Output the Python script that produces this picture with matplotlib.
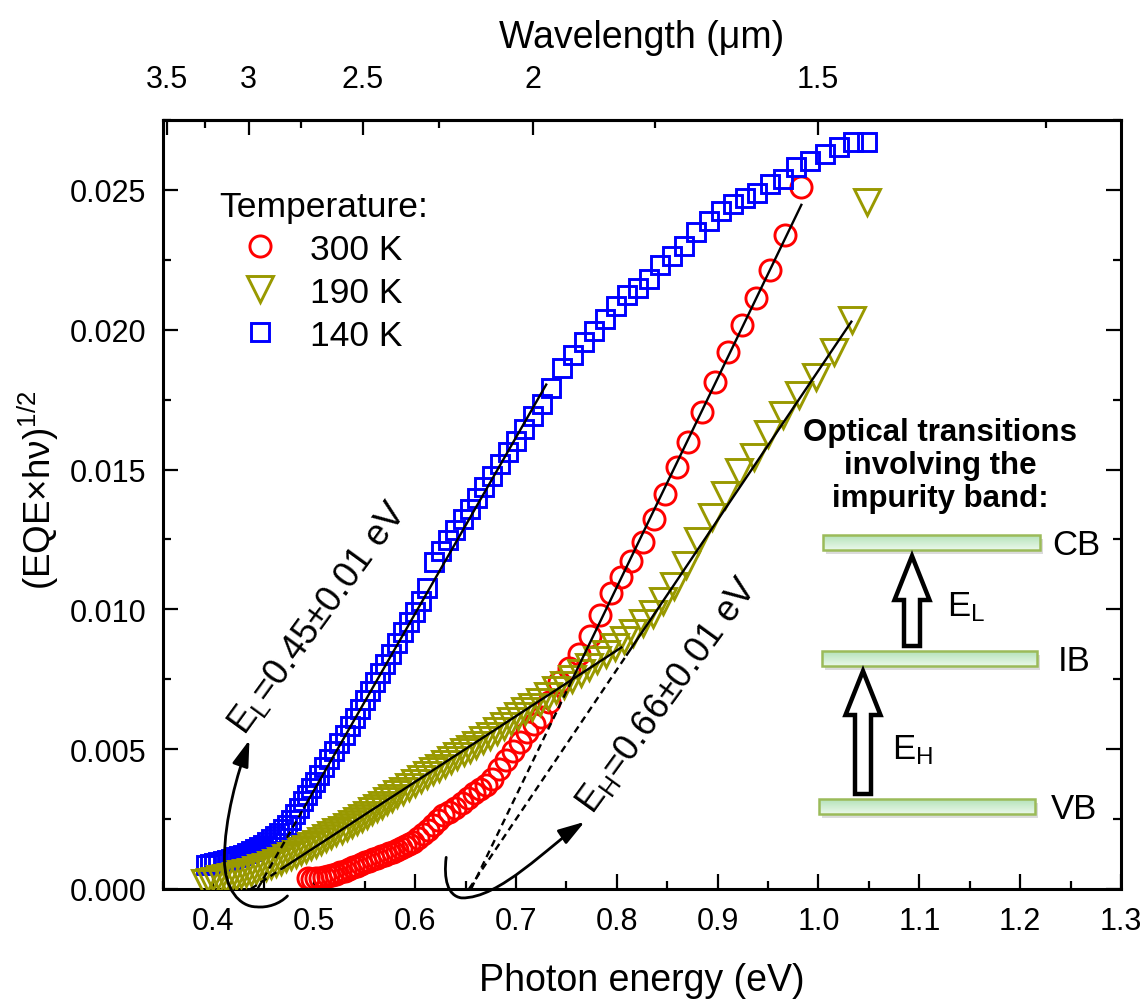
import numpy as np
import matplotlib
matplotlib.use('Agg')
import matplotlib.pyplot as plt
from matplotlib.path import Path
from matplotlib.patches import FancyArrowPatch, FancyArrow, Rectangle
from matplotlib.colors import LinearSegmentedColormap
from matplotlib.ticker import MultipleLocator, FixedLocator, FormatStrFormatter

plt.rcParams['font.family'] = ['Liberation Sans', 'DejaVu Sans']
plt.rcParams['mathtext.fontset'] = 'custom'
plt.rcParams['mathtext.rm'] = 'Liberation Sans'
plt.rcParams['mathtext.it'] = 'Liberation Sans:italic'
plt.rcParams['mathtext.bf'] = 'Liberation Sans:bold'

# ---- datos ----
temps = ['300 K', '190 K', '140 K']

e_300 = [0.494, 0.498, 0.502, 0.506, 0.510, 0.514, 0.518, 0.522, 0.526, 0.530,
         0.534, 0.538, 0.542, 0.546, 0.550, 0.554, 0.558, 0.562, 0.566, 0.570,
         0.574, 0.578, 0.582, 0.586, 0.590, 0.594, 0.598, 0.603, 0.608, 0.613,
         0.618, 0.623, 0.628, 0.634, 0.640, 0.646, 0.652, 0.658, 0.664, 0.670,
         0.676, 0.683, 0.690, 0.697, 0.704, 0.711, 0.718, 0.725, 0.733, 0.743,
         0.753, 0.763, 0.773, 0.783, 0.794, 0.804, 0.814, 0.826, 0.837, 0.848,
         0.860, 0.871, 0.884, 0.897, 0.910, 0.924, 0.938, 0.952, 0.967, 0.983]
y_300 = [0.00040, 0.00035, 0.00038, 0.00040, 0.00043, 0.00047, 0.00051, 0.00055, 0.00060, 0.00065,
         0.00071, 0.00077, 0.00083, 0.00089, 0.00095, 0.00101, 0.00107, 0.00112, 0.00117, 0.00122,
         0.00127, 0.00133, 0.00140, 0.00147, 0.00154, 0.00161, 0.00168, 0.00182, 0.00196, 0.00212,
         0.00230, 0.00248, 0.00263, 0.00275, 0.00290, 0.00308, 0.00325, 0.00342, 0.00358, 0.00372,
         0.00392, 0.00428, 0.00462, 0.00495, 0.00527, 0.00562, 0.00590, 0.00615, 0.00668, 0.00740,
         0.00790, 0.00840, 0.00906, 0.00978, 0.01060, 0.01115, 0.01172, 0.01241, 0.01324, 0.01414,
         0.01509, 0.01599, 0.01706, 0.01813, 0.01921, 0.02016, 0.02112, 0.02213, 0.02338, 0.02511]

e_190 = [0.392, 0.397, 0.402, 0.407, 0.412, 0.417, 0.422, 0.427, 0.432, 0.437,
         0.442, 0.447, 0.452, 0.457, 0.462, 0.467, 0.472, 0.477, 0.482, 0.487,
         0.492, 0.497, 0.502, 0.507, 0.512, 0.517, 0.522, 0.527, 0.532, 0.537,
         0.542, 0.547, 0.552, 0.557, 0.562, 0.567, 0.572, 0.577, 0.582, 0.588,
         0.594, 0.600, 0.606, 0.612, 0.618, 0.624, 0.630, 0.636, 0.642, 0.648,
         0.654, 0.660, 0.667, 0.674, 0.681, 0.688, 0.695, 0.702, 0.709, 0.716,
         0.724, 0.732, 0.740, 0.748, 0.756, 0.764, 0.772, 0.780, 0.789, 0.798,
         0.807, 0.816, 0.826, 0.836, 0.846, 0.857, 0.869, 0.881, 0.894, 0.907,
         0.921, 0.936, 0.950, 0.965, 0.981, 0.998, 1.015, 1.033, 1.048]
y_190 = [0.00020, 0.00025, 0.00030, 0.00034, 0.00038, 0.00042, 0.00047, 0.00052, 0.00057, 0.00062,
         0.00068, 0.00074, 0.00080, 0.00087, 0.00094, 0.00101, 0.00109, 0.00117, 0.00126, 0.00135,
         0.00144, 0.00153, 0.00162, 0.00172, 0.00182, 0.00192, 0.00202, 0.00212, 0.00222, 0.00233,
         0.00244, 0.00255, 0.00266, 0.00278, 0.00290, 0.00302, 0.00314, 0.00326, 0.00338, 0.00352,
         0.00366, 0.00380, 0.00394, 0.00408, 0.00421, 0.00434, 0.00447, 0.00460, 0.00474, 0.00488,
         0.00502, 0.00516, 0.00532, 0.00548, 0.00566, 0.00583, 0.00600, 0.00618, 0.00635, 0.00652,
         0.00670, 0.00690, 0.00710, 0.00730, 0.00750, 0.00772, 0.00795, 0.00818, 0.00842, 0.00866,
         0.00890, 0.00915, 0.00950, 0.00985, 0.01030, 0.01085, 0.01160, 0.01245, 0.01330, 0.01408,
         0.01490, 0.01545, 0.01628, 0.01694, 0.01766, 0.01831, 0.01920, 0.02034, 0.02458]

e_140 = [0.393, 0.397, 0.401, 0.405, 0.409, 0.413, 0.417, 0.421, 0.425, 0.429,
         0.433, 0.437, 0.441, 0.445, 0.449, 0.453, 0.457, 0.461, 0.465, 0.469,
         0.473, 0.477, 0.481, 0.485, 0.489, 0.493, 0.497, 0.501, 0.505, 0.510,
         0.515, 0.520, 0.525, 0.530, 0.535, 0.540, 0.545, 0.550, 0.555, 0.560,
         0.565, 0.570, 0.576, 0.582, 0.588, 0.594, 0.600, 0.606, 0.612, 0.619,
         0.626, 0.633, 0.640, 0.647, 0.654, 0.661, 0.668, 0.676, 0.684, 0.692,
         0.700, 0.708, 0.717, 0.726, 0.735, 0.746, 0.757, 0.767, 0.777, 0.788,
         0.799, 0.810, 0.821, 0.832, 0.843, 0.855, 0.867, 0.879, 0.891, 0.903,
         0.915, 0.927, 0.939, 0.952, 0.965, 0.978, 0.992, 1.006, 1.020, 1.034, 1.048]
y_140 = [0.00085, 0.00088, 0.00092, 0.00096, 0.00100, 0.00104, 0.00108, 0.00113, 0.00118, 0.00123,
         0.00129, 0.00135, 0.00142, 0.00150, 0.00158, 0.00167, 0.00177, 0.00188, 0.00200, 0.00214,
         0.00230, 0.00248, 0.00268, 0.00290, 0.00313, 0.00337, 0.00360, 0.00383, 0.00406, 0.00435,
         0.00464, 0.00493, 0.00522, 0.00552, 0.00582, 0.00613, 0.00644, 0.00676, 0.00708, 0.00740,
         0.00772, 0.00804, 0.00842, 0.00880, 0.00918, 0.00955, 0.00992, 0.01028, 0.01075, 0.01170,
         0.01210, 0.01248, 0.01285, 0.01322, 0.01360, 0.01398, 0.01436, 0.01478, 0.01520, 0.01562,
         0.01603, 0.01645, 0.01690, 0.01735, 0.01790, 0.01862, 0.01910, 0.01955, 0.01995, 0.02040,
         0.02085, 0.02125, 0.02150, 0.02180, 0.02230, 0.02265, 0.02300, 0.02350, 0.02390, 0.02425,
         0.02450, 0.02470, 0.02490, 0.02522, 0.02540, 0.02580, 0.02605, 0.02630, 0.02655, 0.02672, 0.02672]

# ajustes lineales: umbral (eV), pendiente, inicio y fin del tramo continuo
fit_onset = [0.4437, 0.437, 0.6555, 0.6534]
fit_slope = [0.063, 0.0235, 0.0747, 0.0535]
fit_from = [0.490, 0.4704, 0.753, 0.810]
fit_to = [0.730, 0.8045, 0.983, 1.0326]

# eje superior: longitud de onda (um)
wl_major = [3.5, 3, 2.5, 2, 1.5]
wl_minor = [3.25, 2.75, 2.25, 1.75, 1.25]
wl_labels = ['3.5', '3', '2.5', '2', '1.5']

band_names = ['CB', 'IB', 'VB']

colors = {'300 K': '#ff0000', '190 K': '#999900', '140 K': '#0000ff'}

# ---- figura ----
fig = plt.figure(figsize=(11.48, 10.03), dpi=100)
ax = fig.add_axes([0.142, 0.1127, 0.8345, 0.7667])

h300, = ax.plot(e_300, y_300, 'o', ms=15.2, mfc='none', mec=colors['300 K'], mew=2.1, zorder=2)
h140, = ax.plot(e_140, y_140, 's', ms=13.2, mfc='none', mec=colors['140 K'], mew=2.1, zorder=2)
h190, = ax.plot(e_190, y_190, 'v', ms=18.5, mfc='none', mec=colors['190 K'], mew=2.1, zorder=3)

for e0, k, e1, e2 in zip(fit_onset, fit_slope, fit_from, fit_to):
    xs = np.array([e1, e2])
    ax.plot(xs, k * (xs - e0), color='k', lw=1.7, zorder=4)
    xd = np.array([e0, e1])
    ax.plot(xd, k * (xd - e0), color='k', lw=1.7, ls=(0, (3, 2)), zorder=4)

ax.set_xlim(0.35, 1.3)
ax.set_ylim(0, 0.0275)
ax.xaxis.set_major_locator(MultipleLocator(0.1))
ax.xaxis.set_minor_locator(MultipleLocator(0.05))
ax.yaxis.set_major_locator(MultipleLocator(0.005))
ax.yaxis.set_minor_locator(MultipleLocator(0.0025))
ax.xaxis.set_major_formatter(FormatStrFormatter('%.1f'))
ax.yaxis.set_major_formatter(FormatStrFormatter('%.3f'))
ax.tick_params(which='both', direction='in', right=True, top=False, width=1.6, labelsize=22, pad=12)
ax.tick_params(which='major', length=10.5)
ax.tick_params(which='minor', length=5.5)
for sp in ax.spines.values():
    sp.set_linewidth(2.2)

ax.set_xlabel('Photon energy (eV)', fontsize=27, labelpad=19)
ax.set_ylabel('(EQE×hν)$^{1/2}$', fontsize=26.5)
ax.yaxis.set_label_coords(-0.107, 0.52)


def e_to_wl(e):
    return 1.6936 / (np.asarray(e, dtype=float) + 0.1295)


def wl_to_e(wl):
    return 1.6936 / np.asarray(wl, dtype=float) - 0.1295


secax = ax.secondary_xaxis('top', functions=(e_to_wl, wl_to_e))
secax.xaxis.set_major_locator(FixedLocator(wl_major))
secax.xaxis.set_minor_locator(FixedLocator(wl_minor))
secax.set_xticklabels(wl_labels)
secax.tick_params(which='both', direction='in', width=1.6, labelsize=22, pad=19)
secax.tick_params(which='major', length=10.5)
secax.tick_params(which='minor', length=5.5)
secax.spines['top'].set_linewidth(2.2)
secax.set_xlabel('Wavelength (μm)', fontsize=27, labelpad=12)

leg = ax.legend([h300, h190, h140], temps, title='Temperature:', loc='upper left',
                bbox_to_anchor=(0.059, 0.909), frameon=False, fontsize=25.5,
                title_fontsize=25.5, alignment='left', handlelength=2.3,
                handletextpad=0.25, labelspacing=0.28, borderpad=0, borderaxespad=0,
                markerscale=1.0)

# etiquetas de los umbrales
ax.text(0.4308, 0.00548, 'E$_\\mathrm{L}$=0.45±0.01 eV', fontsize=26, rotation=54,
        rotation_mode='anchor', ha='left', va='baseline', zorder=6)
ax.text(0.776, 0.00268, 'E$_\\mathrm{H}$=0.66±0.01 eV', fontsize=26, rotation=54,
        rotation_mode='anchor', ha='left', va='baseline', zorder=6)

# flechas curvas
C4 = Path.CURVE4
hook_l = Path([(0.4734, -0.00025), (0.4655, -0.00054), (0.4536, -0.00068), (0.4427, -0.00064),
               (0.4258, -0.00064), (0.4109, 0.0), (0.4109, 0.00107),
               (0.4109, 0.00251), (0.4238, 0.00412), (0.4357, 0.00533)],
              [Path.MOVETO, C4, C4, C4, C4, C4, C4, C4, C4, C4])
hook_h = Path([(0.6308, 0.00113), (0.6282, 0.00036), (0.6321, -0.00025), (0.6460, -0.00032),
               (0.6837, -0.00036), (0.7333, 0.00157), (0.7681, 0.0024)],
              [Path.MOVETO, C4, C4, C4, C4, C4, C4])
for p in (hook_l, hook_h):
    arr = FancyArrowPatch(path=p, arrowstyle='-|>,head_length=0.8,head_width=0.25',
                          mutation_scale=20, lw=2, color='k', clip_on=False, zorder=6)
    ax.add_patch(arr)

# ---- esquema de bandas (coordenadas en pixeles) ----
W, H = 1148, 1003
ov = fig.add_axes([0, 0, 1, 1], zorder=5)
ov.patch.set_alpha(0)
ov.axis('off')
green = LinearSegmentedColormap.from_list('band', ['#b4e2b9', '#eaf8ea'])
grad = np.linspace(0, 1, 50).reshape(-1, 1)
boxes = [(823, 1040, 536, 551), (822, 1037, 652, 667), (819, 1035, 800, 815)]
label_x = [1052, 1058, 1051]
for name, (x0, x1, y0, y1), lx in zip(band_names, boxes, label_x):
    ov.add_patch(Rectangle((x0 + 3, y0 + 4), x1 - x0, y1 - y0, fc='#888888', ec='none',
                           alpha=0.3, zorder=1))
    ov.imshow(grad, extent=(x0, x1, y1, y0), cmap=green, aspect='auto', zorder=2)
    ov.add_patch(Rectangle((x0, y0), x1 - x0, y1 - y0, fc='none', ec='#9bbb59', lw=1.8, zorder=3))
    ov.text(lx, (y0 + y1) / 2 + 2, name, fontsize=25, ha='left', va='center')

ov.add_patch(FancyArrow(912, 647, 0, -90, width=16, head_width=35, head_length=44,
                        length_includes_head=True, fc='white', ec='black', lw=3.2, zorder=4))
ov.add_patch(FancyArrow(863, 795, 0, -123, width=16, head_width=35, head_length=44,
                        length_includes_head=True, fc='white', ec='black', lw=3.2, zorder=4))
ov.text(966, 607, 'E$_\\mathrm{L}$', fontsize=25, ha='center', va='center')
ov.text(913, 750, 'E$_\\mathrm{H}$', fontsize=25, ha='center', va='center')
ov.text(940, 466, 'Optical transitions\ninvolving the\nimpurity band:', fontsize=22.5,
        fontweight='bold', ha='center', va='center', linespacing=1.15)
ov.set_xlim(0, W)
ov.set_ylim(H, 0)

fig.savefig('out.png', dpi=100)
